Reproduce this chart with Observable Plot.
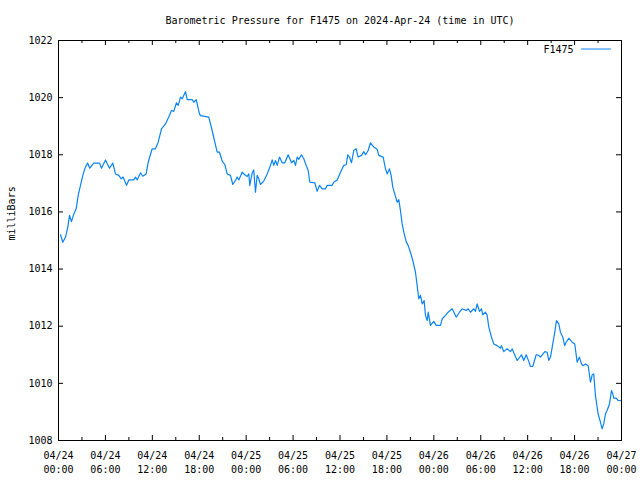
<!DOCTYPE html>
<html>
<head>
<meta charset="utf-8">
<script src="https://cdn.jsdelivr.net/npm/d3@7"></script>
<script src="https://cdn.jsdelivr.net/npm/@observablehq/plot@0.6"></script>
<style>
  html, body { margin: 0; padding: 0; background: #fff; }
</style>
</head>
<body>
<div id="chart"></div>
<script>
const title = "Barometric Pressure for F1475 on 2024-Apr-24 (time in UTC)";
const seriesName = "F1475";
const yLabel = "milliBars";
const startTime = Date.UTC(2024, 3, 24, 0, 0);

// hours after 2024-04-24 00:00 UTC
const hours = [
  0.26, 0.55, 0.90, 1.19, 1.41, 1.66, 1.96, 2.26, 2.52, 2.81, 3.11, 3.36, 3.71, 4.00, 4.51,
  5.24, 5.50, 6.01, 6.52, 6.94, 7.29, 7.71, 8.02, 8.27, 8.70, 8.99, 9.63, 9.85, 10.06, 10.49,
  10.78, 11.21, 11.47, 11.98, 12.40, 12.75, 13.17, 13.68, 14.10, 14.45, 14.74, 15.09, 15.31,
  15.60, 15.82, 16.24, 16.46, 17.10, 17.30, 17.61, 18.03, 18.16, 19.22, 19.65, 20.29, 20.59,
  20.93, 21.27, 21.57, 21.99, 22.29, 22.63, 22.85, 23.06, 23.49, 23.82, 24.13, 24.34, 24.46,
  24.77, 24.97, 25.19, 25.41, 25.61, 25.83, 26.25, 26.69, 27.11, 27.33, 27.53, 27.75, 27.97,
  28.26, 28.61, 28.94, 29.37, 29.80, 30.09, 30.31, 30.52, 30.73, 31.07, 31.37, 31.67, 31.93,
  32.14, 32.78, 33.08, 33.38, 33.72, 34.14, 34.36, 35.00, 35.20, 35.64, 35.97, 36.48, 36.79,
  36.99, 37.21, 37.47, 37.76, 38.07, 38.32, 38.75, 39.04, 39.26, 39.60, 39.90, 40.32, 40.75,
  40.96, 41.52, 41.82, 42.03, 42.33, 42.54, 42.75, 43.00, 43.31, 43.52, 43.73, 43.95, 44.16,
  44.46, 44.72, 45.01, 45.31, 45.65, 45.87, 46.07, 46.29, 46.51, 46.76, 46.93, 47.15, 47.28,
  47.57, 47.99, 48.30, 48.85, 49.07, 49.49, 49.83, 50.35, 50.86, 51.28, 51.62, 52.14, 52.39,
  52.69, 53.11, 53.32, 53.54, 53.84, 54.09, 54.26, 54.60, 54.82, 55.03, 55.37, 55.66, 56.10,
  56.52, 56.65, 56.94, 57.38, 57.80, 58.02, 58.22, 58.66, 59.21, 59.50, 59.81, 60.14, 60.36,
  60.65, 61.09, 61.42, 61.64, 62.19, 62.49, 62.70, 62.92, 63.21, 63.47, 63.68, 63.98, 64.19,
  64.49, 64.74, 64.92, 65.26, 65.69, 66.02, 66.33, 66.62, 66.88, 67.05, 67.39, 67.74, 68.03,
  68.25, 68.45, 68.67, 69.01, 69.31, 69.52, 69.73, 69.95, 70.16, 70.46, 70.72, 70.88, 71.01,
  71.32, 71.57, 71.87
];

// pressure in millibars
const pressure = [
  1015.20, 1014.94, 1015.12, 1015.47, 1015.88, 1015.66, 1015.93, 1016.11, 1016.58, 1016.93, 1017.28, 1017.51, 1017.71, 1017.53, 1017.71,
  1017.71, 1017.53, 1017.82, 1017.53, 1017.71, 1017.33, 1017.28, 1017.16, 1017.22, 1016.93, 1017.12, 1017.12, 1017.22, 1017.12, 1017.37,
  1017.25, 1017.33, 1017.74, 1018.21, 1018.21, 1018.44, 1018.91, 1019.08, 1019.32, 1019.55, 1019.52, 1019.82, 1019.73,
  1020.02, 1019.96, 1020.21, 1019.93, 1019.93, 1019.84, 1019.93, 1019.43, 1019.37, 1019.32, 1018.85, 1018.09, 1018.09,
  1017.78, 1017.66, 1017.33, 1017.28, 1016.96, 1017.10, 1017.22, 1017.12, 1017.39, 1017.30, 1017.24, 1017.33, 1016.93,
  1017.36, 1017.47, 1016.69, 1017.28, 1017.16, 1016.96, 1017.08, 1017.33, 1017.63, 1017.82, 1017.63, 1017.80, 1017.63,
  1017.92, 1017.72, 1017.72, 1018.00, 1017.72, 1017.80, 1017.63, 1017.92, 1017.84, 1018.00, 1017.86, 1017.63, 1017.45,
  1017.04, 1017.02, 1016.72, 1016.93, 1016.81, 1016.81, 1016.93, 1016.93, 1017.04, 1017.12, 1017.33, 1017.63, 1017.65,
  1018.00, 1017.92, 1017.72, 1018.15, 1018.21, 1017.92, 1017.98, 1018.11, 1018.00, 1018.15, 1018.42, 1018.27, 1018.19,
  1017.98, 1017.92, 1017.51, 1017.33, 1017.51, 1017.28, 1016.87, 1016.63, 1016.34, 1016.43, 1016.05, 1015.58, 1015.29,
  1014.96, 1014.82, 1014.59, 1014.30, 1013.89, 1013.42, 1012.96, 1013.08, 1012.78, 1012.90, 1012.38, 1012.20, 1012.49,
  1012.03, 1012.17, 1012.03, 1012.03, 1012.26, 1012.38, 1012.49, 1012.61, 1012.32, 1012.49, 1012.61, 1012.55, 1012.61,
  1012.49, 1012.61, 1012.52, 1012.78, 1012.52, 1012.61, 1012.40, 1012.49, 1012.38, 1011.97, 1011.62, 1011.38, 1011.32,
  1011.23, 1011.32, 1011.11, 1011.21, 1011.11, 1011.21, 1011.07, 1010.80, 1011.00, 1010.80, 1011.00, 1010.77, 1010.59,
  1010.59, 1011.00, 1010.98, 1010.92, 1011.11, 1011.09, 1010.80, 1010.92, 1011.38, 1011.79, 1012.20, 1012.08, 1011.79,
  1011.62, 1011.32, 1011.44, 1011.58, 1011.44, 1011.38, 1010.74, 1010.92, 1010.68, 1010.62, 1010.68, 1010.62, 1010.04,
  1010.30, 1010.33, 1009.57, 1008.93, 1008.64, 1008.41, 1008.58, 1008.93, 1009.05, 1009.28, 1009.75, 1009.63, 1009.48,
  1009.48, 1009.40, 1009.40
];

const yTicks = [1008, 1010, 1012, 1014, 1016, 1018, 1020, 1022];
const majorTickHours = [0, 6, 12, 18, 24, 30, 36, 42, 48, 54, 60, 66, 72];
const minorTickHours = [3, 9, 15, 21, 27, 33, 39, 45, 51, 57, 63, 69];
const xDomainHours = [0, 72];
const yDomain = [1008, 1022];

const toDate = h => new Date(startTime + h * 3600 * 1000);
const data = hours.map((h, i) => ({time: toDate(h), value: pressure[i]}));
const majorTicks = majorTickHours.map(toDate);
const minorTicks = minorTickHours.map(toDate);

const pad = n => String(n).padStart(2, "0");
const fmt = d => `${pad(d.getUTCMonth() + 1)}/${pad(d.getUTCDate())}\n${pad(d.getUTCHours())}:${pad(d.getUTCMinutes())}`;

const lineColor = "#0a84f5";
const font = "'DejaVu Sans Mono', 'Liberation Mono', monospace";

const W = 640, H = 480;
const mL = 58, mR = 19, mT = 40, mB = 40;
const frameW = W - mL - mR, frameH = H - mT - mB;
const majorLen = 5, minorLen = 3;

const lineShape = {
  draw(context, l) { context.moveTo(0, 0); context.lineTo(0, -l); }
};

const chart = Plot.plot({
  width: W,
  height: H,
  marginLeft: mL,
  marginRight: mR,
  marginTop: mT,
  marginBottom: mB,
  style: {fontFamily: font, fontSize: "10px", color: "#000", background: "#fff"},
  x: {type: "utc", domain: xDomainHours.map(toDate), axis: null},
  y: {domain: yDomain, axis: null},
  marks: [
    // ticks (inward, mirrored)
    Plot.tickX(majorTicks, {x: d => d, insetTop: frameH - majorLen, stroke: "#000"}),
    Plot.tickX(majorTicks, {x: d => d, insetBottom: frameH - majorLen, stroke: "#000"}),
    Plot.tickX(minorTicks, {x: d => d, insetTop: frameH - minorLen, stroke: "#000"}),
    Plot.tickX(minorTicks, {x: d => d, insetBottom: frameH - minorLen, stroke: "#000"}),
    Plot.tickY(yTicks, {y: d => d, insetRight: frameW - majorLen, stroke: "#000"}),
    Plot.tickY(yTicks, {y: d => d, insetLeft: frameW - majorLen, stroke: "#000"}),
    // data line
    Plot.line(data, {x: "time", y: "value", stroke: lineColor, strokeWidth: 1.2, curve: "linear"}),
    Plot.frame({stroke: "#000", strokeWidth: 1}),
    // y tick labels
    Plot.text(yTicks, {y: d => d, frameAnchor: "left", dx: -6, textAnchor: "end", text: d => String(d), fill: "#000"}),
    // x tick labels
    Plot.text(majorTicks, {x: d => d, frameAnchor: "bottom", dy: 9, lineAnchor: "top", lineHeight: 1.4, text: fmt, fill: "#000"}),
    // y axis label
    Plot.text([yLabel], {frameAnchor: "left", dx: -47, rotate: -90, fill: "#000"}),
    // title
    Plot.text([title], {frameAnchor: "top", dy: -20, lineAnchor: "middle", fill: "#000"}),
    // legend
    Plot.text([seriesName], {frameAnchor: "top-right", dx: -48, dy: 9, lineAnchor: "middle", textAnchor: "end", fill: "#000"}),
    Plot.vector([seriesName], {frameAnchor: "top-right", dx: -11, dy: 8.5, length: 29, rotate: -90, anchor: "start", shape: lineShape, stroke: lineColor, strokeWidth: 1.2})
  ]
});

document.getElementById("chart").appendChild(chart);
</script>
</body>
</html>
